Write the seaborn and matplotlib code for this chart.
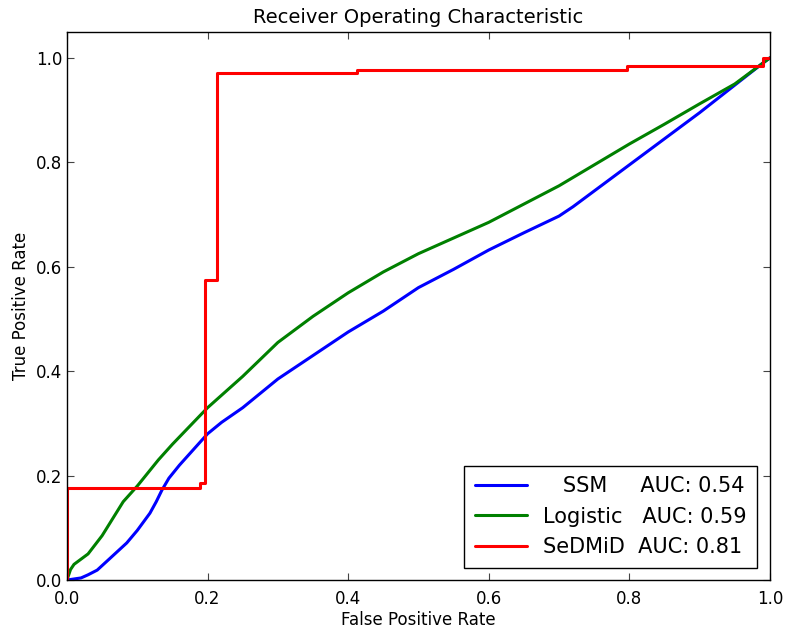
import numpy as np
import pandas as pd
import seaborn as sns
import matplotlib
matplotlib.use('Agg')
import matplotlib.pyplot as plt

# ROC curves
ssm_fpr = [0.0, 0.01, 0.02, 0.03, 0.043, 0.06, 0.085, 0.10, 0.118, 0.127, 0.135, 0.145,
           0.16, 0.18, 0.20, 0.22, 0.25, 0.30, 0.35, 0.40, 0.45, 0.50, 0.55, 0.60,
           0.65, 0.70, 0.72, 0.80, 0.90, 0.99, 1.0]
ssm_tpr = [0.0, 0.002, 0.004, 0.01, 0.019, 0.04, 0.071, 0.095, 0.128, 0.15, 0.172, 0.195,
           0.22, 0.25, 0.28, 0.302, 0.33, 0.385, 0.43, 0.475, 0.515, 0.56, 0.595, 0.632,
           0.665, 0.697, 0.715, 0.795, 0.895, 0.99, 1.0]

log_fpr = [0.0, 0.005, 0.01, 0.03, 0.05, 0.08, 0.10, 0.13, 0.15, 0.20, 0.25,
           0.30, 0.35, 0.40, 0.45, 0.50, 0.55, 0.60, 0.65, 0.70, 0.75, 0.80,
           0.85, 0.90, 0.95, 1.0]
log_tpr = [0.0, 0.02, 0.03, 0.05, 0.085, 0.15, 0.18, 0.23, 0.26, 0.33, 0.39,
           0.455, 0.505, 0.55, 0.59, 0.625, 0.655, 0.685, 0.72, 0.755, 0.795, 0.835,
           0.873, 0.912, 0.95, 1.0]

sed_fpr = [0.0, 0.0, 0.189, 0.189, 0.196, 0.196, 0.213, 0.213, 0.413, 0.413,
           0.797, 0.797, 0.99, 0.99, 1.0]
sed_tpr = [0.0, 0.177, 0.177, 0.185, 0.185, 0.575, 0.575, 0.972, 0.972, 0.976,
           0.976, 0.985, 0.985, 1.0, 1.0]

labels = ['   SSM     AUC: 0.54', 'Logistic   AUC: 0.59', 'SeDMiD  AUC: 0.81']
colors = ['#0000ff', '#008000', '#ff0000']

sns.set_style('ticks')
plt.rcParams['font.family'] = ['DejaVu Sans']
plt.rcParams['xtick.direction'] = 'in'
plt.rcParams['ytick.direction'] = 'in'
plt.rcParams['text.color'] = 'black'
plt.rcParams['axes.labelcolor'] = 'black'
plt.rcParams['xtick.labelcolor'] = 'black'
plt.rcParams['ytick.labelcolor'] = 'black'

fig = plt.figure(figsize=(7.88, 6.28), dpi=100)
ax = fig.add_axes([0.085, 0.0764, 0.892, 0.873])

for fpr, tpr, lab, c in zip([ssm_fpr, log_fpr, sed_fpr], [ssm_tpr, log_tpr, sed_tpr], labels, colors):
  sns.lineplot(x=fpr, y=tpr, ax=ax, color=c, label=lab, lw=2.2, sort=False, estimator=None)

ax.set_xlim(0, 1.0)
ax.set_ylim(0, 1.05)
ax.set_xticks([0.0, 0.2, 0.4, 0.6, 0.8, 1.0])
ax.set_yticks([0.0, 0.2, 0.4, 0.6, 0.8, 1.0])
ax.tick_params(top=True, right=True, length=5, width=0.8, labelsize=12, color='#444444')
ax.tick_params(axis='x', pad=7)
for s in ax.spines.values():
  s.set_linewidth(1.0)
  s.set_color('black')
ax.set_xlabel('False Positive Rate', fontsize=12, labelpad=2)
ax.set_ylabel('True Positive Rate', fontsize=12)
ax.set_title('Receiver Operating Characteristic', fontsize=14)
leg = ax.legend(loc='lower right', fontsize=15, fancybox=False, framealpha=1,
                edgecolor='black', handlelength=2.5, borderaxespad=0.6,
                labelspacing=0.5, borderpad=0.5)
leg.get_frame().set_linewidth(1.0)

plt.savefig('out.png', dpi=100)
